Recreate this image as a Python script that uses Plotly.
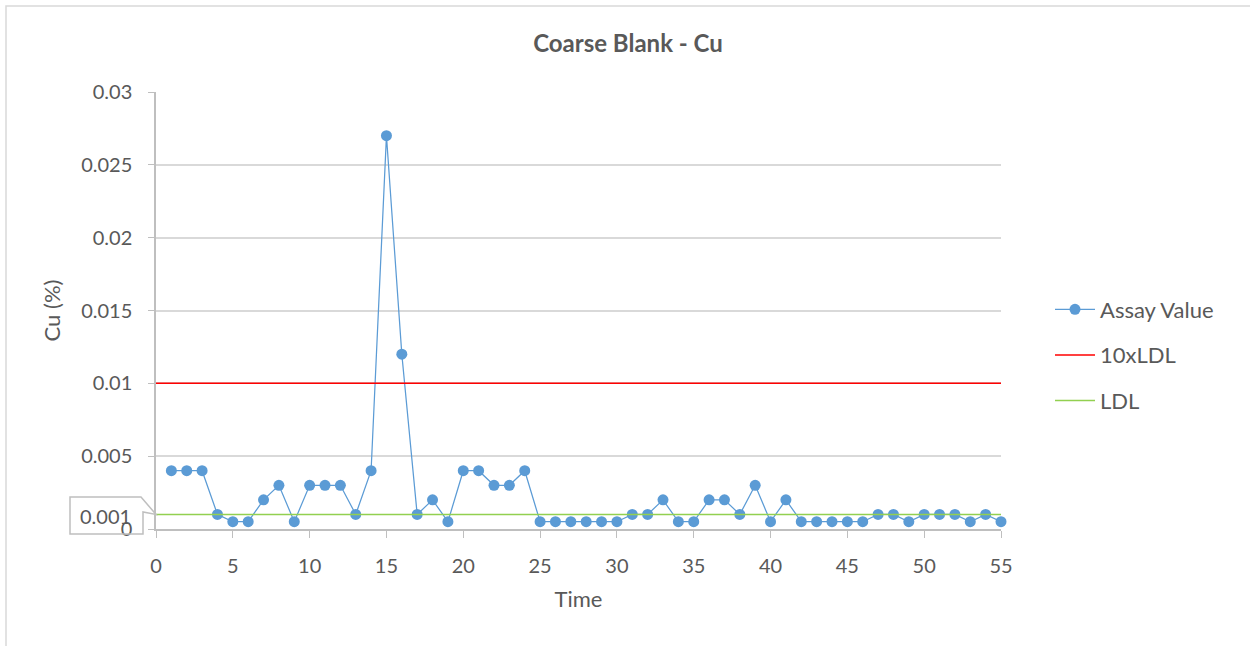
import plotly.graph_objects as go

# Coarse blank assay results for Cu (%), one per submission in time order
time = list(range(1, 56))
assay_value = [
    0.004, 0.004, 0.004, 0.001, 0.0005, 0.0005, 0.002, 0.003, 0.0005, 0.003,
    0.003, 0.003, 0.001, 0.004, 0.027, 0.012, 0.001, 0.002, 0.0005, 0.004,
    0.004, 0.003, 0.003, 0.004, 0.0005, 0.0005, 0.0005, 0.0005, 0.0005, 0.0005,
    0.001, 0.001, 0.002, 0.0005, 0.0005, 0.002, 0.002, 0.001, 0.003, 0.0005,
    0.002, 0.0005, 0.0005, 0.0005, 0.0005, 0.0005, 0.001, 0.001, 0.0005, 0.001,
    0.001, 0.001, 0.0005, 0.001, 0.0005,
]
ldl = 0.001
ten_x_ldl = 0.01
line_span = [0, 55]

FONT = "Lato"
TXT = "#595959"

# plot-area geometry in pixels (for the callout drawn in paper space)
W, H = 1250, 646
L, R, T, B = 156, 249, 92, 117
pw, ph = W - L - R, H - T - B
Y_MAX = 0.03


def px(x):
    return (x - L) / pw


def py(y):
    return (H - B - y) / ph


fig = go.Figure()

fig.add_trace(go.Scatter(
    x=time, y=assay_value, name="Assay Value", mode="lines+markers",
    line=dict(color="#5b9bd5", width=1.25),
    marker=dict(color="#5b9bd5", size=11),
    cliponaxis=False, legendgroup="a",
))
fig.add_trace(go.Scatter(
    x=line_span, y=[ten_x_ldl] * 2, name="10xLDL", mode="lines",
    line=dict(color="#ff0000", width=1.5), legendgroup="b",
))
fig.add_trace(go.Scatter(
    x=line_span, y=[ldl] * 2, name="LDL", mode="lines",
    line=dict(color="#92d050", width=1.5), legendgroup="c",
))

# Data-label callout pointing at the LDL line
ldl_y = ldl / Y_MAX  # paper y of the LDL line
callout = (
    f"M {px(70)} {py(497)} L {px(141)} {py(497)} L {px(156)} {ldl_y} "
    f"L {px(143)} {py(512)} L {px(143)} {py(534)} L {px(70)} {py(534)} Z"
)
fig.add_shape(type="path", path=callout, xref="paper", yref="paper",
              line=dict(color="#bfbfbf", width=1.5), fillcolor="rgba(255,255,255,0)")
fig.add_annotation(text=f"{ldl:g}", x=px(105), y=py(516), xref="paper", yref="paper",
                   xanchor="center", yanchor="middle", showarrow=False,
                   font=dict(family=FONT, size=20, color=TXT))

# Chart-area border
fig.add_shape(type="rect", xref="paper", yref="paper",
              x0=px(6), x1=px(1262), y0=py(660), y1=py(6),
              line=dict(color="#d9d9d9", width=1.5))

fig.update_layout(
    width=W, height=H,
    margin=dict(l=L, r=R, t=T, b=B),
    paper_bgcolor="white", plot_bgcolor="white",
    font=dict(family=FONT, color=TXT, size=20),
    title=dict(text="<b>Coarse Blank - Cu</b>", x=px(628), xref="paper", xanchor="center",
               y=1 - 44 / H, yanchor="middle",
               font=dict(family=FONT, size=24, color=TXT)),
    legend=dict(x=px(1050), y=py(355), xanchor="left", yanchor="middle",
                traceorder="grouped", tracegroupgap=14,
                font=dict(family=FONT, size=22, color=TXT), itemwidth=40),
    showlegend=True,
)
fig.update_xaxes(
    range=[0, 55], dtick=5, tick0=0,
    showline=True, linecolor="#bfbfbf", linewidth=1.5,
    ticks="outside", ticklen=7, tickcolor="#bfbfbf",
    showgrid=False, zeroline=False, ticklabelstandoff=11,
    title=dict(text="Time", font=dict(family=FONT, size=22, color=TXT), standoff=16),
)
fig.update_yaxes(
    range=[0, Y_MAX], dtick=0.005, tick0=0,
    showline=True, linecolor="#bfbfbf", linewidth=1.5,
    ticks="outside", ticklen=6, tickcolor="#bfbfbf",
    showgrid=True, gridcolor="#d9d9d9", gridwidth=1.5, zeroline=False,
    ticklabelstandoff=12,
    title=dict(text="Cu (%)", font=dict(family=FONT, size=22, color=TXT), standoff=14),
)

fig.write_html("out.html")
